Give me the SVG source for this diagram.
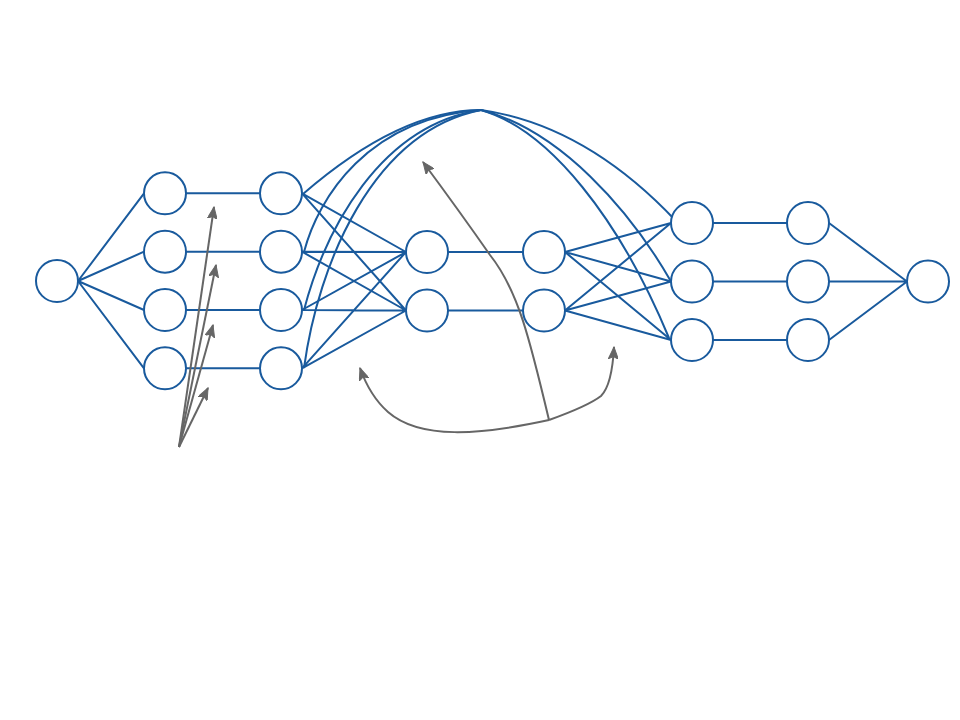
<svg xmlns="http://www.w3.org/2000/svg" width="960" height="720" viewBox="0 0 960 720">
<style>
.n{fill:#fff;stroke:#195a9d;stroke-width:2}
.e{fill:none;stroke:#195a9d;stroke-width:2}
.g{fill:none;stroke:#666;stroke-width:2;marker-end:url(#ah)}
</style>
<defs>
<marker id="ah" markerWidth="13" markerHeight="10" refX="12" refY="5" orient="auto" markerUnits="userSpaceOnUse">
<path d="M0,0 L12,5 L0,10 L2.5,5 Z" fill="#666" stroke="#666" stroke-width="1"/>
</marker>
</defs>
<rect width="960" height="720" fill="#fff"/>
<g id="connectors">
<path class="e" d="M78,281 L144,193.3 M78,281 L144,251.7 M78,281 L144,310 M78,281 L144,368.3"/>
<path class="e" d="M186,193.3 L260,193.3 M186,251.7 L260,251.7 M186,310 L260,310 M186,368.3 L260,368.3"/>
<path class="e" d="M302,193.3 L406,252 M302,193.3 L406,310.5 M302,251.7 L406,252 M302,251.7 L406,310.5 M302,310 L406,252 M302,310 L406,310.5 M302,368.3 L406,252 M302,368.3 L406,310.5"/>
<path class="e" d="M448,252 L523,252 M448,310.5 L523,310.5"/>
<path class="e" d="M565,252 L671,223 M565,252 L671,281.5 M565,252 L671,340 M565,310.5 L671,223 M565,310.5 L671,281.5 M565,310.5 L671,340"/>
<path class="e" d="M713,223 L787,223 M713,281.5 L787,281.5 M713,340 L787,340"/>
<path class="e" d="M829,223 L907,281.5 M829,281.5 L907,281.5 M829,340 L907,281.5"/>
<path class="e" d="M303,194 Q400,110 481,110"/>
<path class="e" d="M304,252 C318,198 368,118 481,110"/>
<path class="e" d="M304,310 C325,230 380,125 481,110"/>
<path class="e" d="M304,368 C318,265 372,132 481,110"/>
<path class="e" d="M481,110 Q585,125 675,220"/>
<path class="e" d="M481,110 C560,130 630,210 671,281.5"/>
<path class="e" d="M481,110 C550,130 620,220 669,338"/>
<path class="g" d="M179,447 L214,207"/>
<path class="g" d="M179,447 L216,265"/>
<path class="g" d="M179,447 L213,325"/>
<path class="g" d="M179,447 L208,388"/>
<path class="g" d="M549,420 C530,340 518,290 490,255 Q460,212 423,162"/>
<path class="g" d="M549,420 C480,435 420,440 388,412 Q370,396 360,368"/>
<path class="g" d="M549,420 Q588,406 601,396 Q612,385 614,347"/>
</g>
<g id="n0"><circle class="n" cx="57" cy="281" r="21"/></g>
<g id="n1a"><circle class="n" cx="165" cy="193.3" r="21"/></g>
<g id="n1b"><circle class="n" cx="165" cy="251.7" r="21"/></g>
<g id="n1c"><circle class="n" cx="165" cy="310" r="21"/></g>
<g id="n1d"><circle class="n" cx="165" cy="368.3" r="21"/></g>
<g id="n2a"><circle class="n" cx="281" cy="193.3" r="21"/></g>
<g id="n2b"><circle class="n" cx="281" cy="251.7" r="21"/></g>
<g id="n2c"><circle class="n" cx="281" cy="310" r="21"/></g>
<g id="n2d"><circle class="n" cx="281" cy="368.3" r="21"/></g>
<g id="n3a"><circle class="n" cx="427" cy="252" r="21"/></g>
<g id="n3b"><circle class="n" cx="427" cy="310.5" r="21"/></g>
<g id="n4a"><circle class="n" cx="544" cy="252" r="21"/></g>
<g id="n4b"><circle class="n" cx="544" cy="310.5" r="21"/></g>
<g id="n5a"><circle class="n" cx="692" cy="223" r="21"/></g>
<g id="n5b"><circle class="n" cx="692" cy="281.5" r="21"/></g>
<g id="n5c"><circle class="n" cx="692" cy="340" r="21"/></g>
<g id="n6a"><circle class="n" cx="808" cy="223" r="21"/></g>
<g id="n6b"><circle class="n" cx="808" cy="281.5" r="21"/></g>
<g id="n6c"><circle class="n" cx="808" cy="340" r="21"/></g>
<g id="n7"><circle class="n" cx="928" cy="281.5" r="21"/></g>
</svg>
